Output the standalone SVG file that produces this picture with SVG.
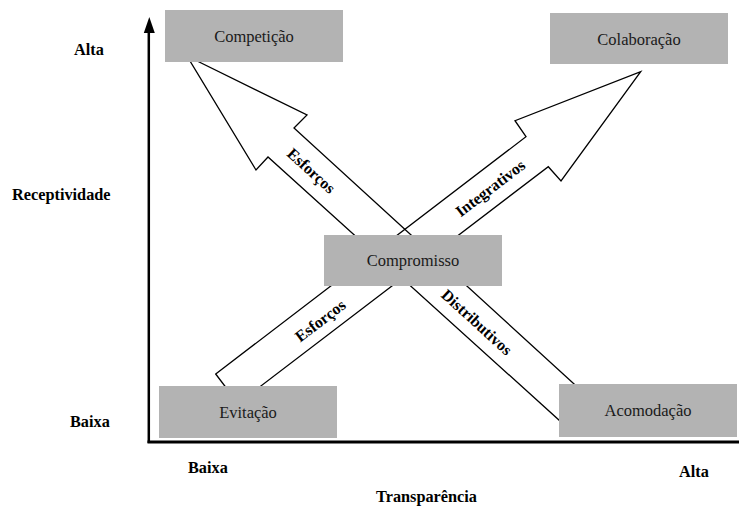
<svg xmlns="http://www.w3.org/2000/svg" width="739" height="506" viewBox="0 0 739 506">
  <style>
    .box rect { fill: #b3b3b3; }
    .box text { font-family: "Liberation Serif", "Times New Roman", serif; font-size: 16.5px; fill: #1a1a1a; text-anchor: middle; }
    .axis-label { font-family: "Liberation Serif", "Times New Roman", serif; font-size: 16.3px; font-weight: bold; fill: #000; }
    .arrow { fill: none; stroke: #000; stroke-width: 1.3; stroke-linejoin: miter; }
    .arrow-label { font-family: "Liberation Serif", "Times New Roman", serif; font-size: 16px; font-weight: bold; fill: #000; text-anchor: middle; }
  </style>

  <!-- axes -->
  <g id="axes">
    <line x1="148.8" y1="443" x2="148.8" y2="30" stroke="#000" stroke-width="2.5"/>
    <polygon points="149.3,17 143.8,33 154.8,33" fill="#000"/>
    <line x1="147.5" y1="442" x2="739" y2="442" stroke="#000" stroke-width="3"/>
    <text class="axis-label" x="74" y="55">Alta</text>
    <text class="axis-label" x="12" y="200">Receptividade</text>
    <text class="axis-label" x="70" y="427">Baixa</text>
    <text class="axis-label" x="188" y="473">Baixa</text>
    <text class="axis-label" x="679" y="477">Alta</text>
    <text class="axis-label" x="376" y="502">Transparência</text>
  </g>

  <!-- block arrows -->
  <g id="connectors">
    <g id="distributive">
      <polygon class="arrow" points="187,56 307,115 294,128 596,404 570,430 268,157 256,170"/>
      <text class="arrow-label" transform="translate(311,171) rotate(42.3)" y="5">Esforços</text>
      <text class="arrow-label" transform="translate(476.5,322.5) rotate(42.3)" y="5">Distributivos</text>
    </g>
    <g id="integrative">
      <polygon class="arrow" points="215.7,374 526,136.7 515,120.7 640.7,71.7 561,181 548.3,166.7 238,403.4"/>
      <text class="arrow-label" transform="translate(320.5,321) rotate(-37.3)" y="5">Esforços</text>
      <text class="arrow-label" transform="translate(490.5,188.5) rotate(-37.3)" y="5">Integrativos</text>
    </g>
  </g>

  <!-- nodes -->
  <g id="competicao" class="box">
    <rect x="165" y="10" width="178" height="52"/>
    <text x="254" y="42">Competição</text>
  </g>
  <g id="colaboracao" class="box">
    <rect x="550" y="13" width="178" height="51"/>
    <text x="639" y="44.5">Colaboração</text>
  </g>
  <g id="compromisso" class="box">
    <rect x="324" y="235" width="178" height="51"/>
    <text x="413" y="266">Compromisso</text>
  </g>
  <g id="evitacao" class="box">
    <rect x="159" y="386" width="178" height="52"/>
    <text x="248" y="418">Evitação</text>
  </g>
  <g id="acomodacao" class="box">
    <rect x="559" y="384" width="178" height="53"/>
    <text x="648" y="416">Acomodação</text>
  </g>
</svg>
